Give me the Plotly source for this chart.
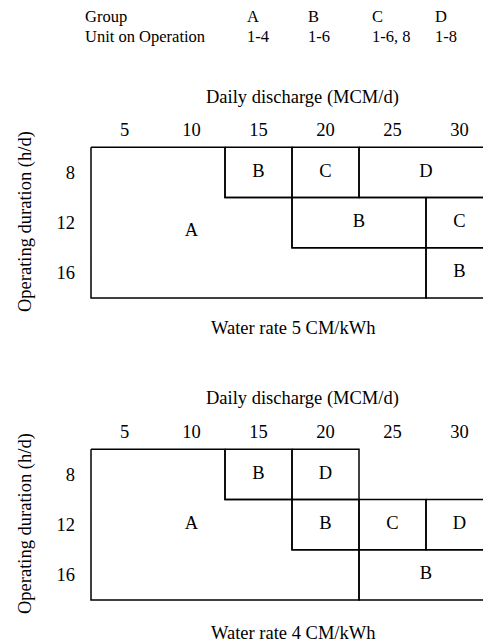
import plotly.graph_objects as go

W, H = 483, 644
FONT = "Liberation Serif"

# ---- data ----
x_ticks = [5, 10, 15, 20, 25, 30]
y_ticks = [8, 12, 16]
header_groups = ["A", "B", "C", "D"]
header_units = ["1-4", "1-6", "1-6, 8", "1-8"]

# Water rate 5 CM/kWh : regions (discharge range x, duration range y)
r5_labels = ["B", "C", "D", "B", "C", "B"]
r5_x0 = [12.5, 17.5, 22.5, 17.5, 27.5, 27.5]
r5_x1 = [17.5, 22.5, 32.5, 27.5, 32.5, 32.5]
r5_y0 = [6, 6, 6, 10, 10, 14]
r5_y1 = [10, 10, 10, 14, 14, 18]
r5_a_x = [2.5, 12.5, 12.5, 17.5, 17.5, 27.5, 27.5, 2.5, 2.5]
r5_a_y = [6, 6, 10, 10, 14, 14, 18, 18, 6]
r5_a_label = (10, 12.7)

# Water rate 4 CM/kWh
r4_labels = ["B", "D", "B", "C", "D", "B"]
r4_x0 = [12.5, 17.5, 17.5, 22.5, 27.5, 22.5]
r4_x1 = [17.5, 22.5, 22.5, 27.5, 32.5, 32.5]
r4_y0 = [6, 6, 10, 10, 10, 14]
r4_y1 = [10, 10, 14, 14, 14, 18]
r4_a_x = [2.5, 12.5, 12.5, 17.5, 17.5, 22.5, 22.5, 2.5, 2.5]
r4_a_y = [6, 6, 10, 10, 14, 14, 18, 18, 6]
r4_a_label = (10, 12.0)

fig = go.Figure()
LINE = dict(color="black", width=1.5)
TXT = dict(family=FONT, size=18.5, color="black")


def add_panel(xa, ya, labels, x0, x1, y0, y1, ax_, ay_, alab):
    # region A outline
    fig.add_trace(go.Scatter(x=ax_, y=ay_, mode="lines", line=LINE,
                             xaxis=xa, yaxis=ya, hoverinfo="skip", showlegend=False))
    for a, b, c, d in zip(x0, x1, y0, y1):
        fig.add_trace(go.Scatter(x=[a, b, b, a, a], y=[c, c, d, d, c], mode="lines",
                                 line=LINE, xaxis=xa, yaxis=ya,
                                 hoverinfo="skip", showlegend=False))
    tx = [(a + b) / 2 for a, b in zip(x0, x1)] + [alab[0]]
    ty = [(c + d) / 2 for c, d in zip(y0, y1)] + [alab[1]]
    fig.add_trace(go.Scatter(x=tx, y=ty, text=list(labels) + ["A"], mode="text",
                             textfont=TXT, xaxis=xa, yaxis=ya, cliponaxis=False,
                             hoverinfo="skip", showlegend=False))


add_panel("x", "y", r5_labels, r5_x0, r5_x1, r5_y0, r5_y1, r5_a_x, r5_a_y, r5_a_label)
add_panel("x2", "y2", r4_labels, r4_x0, r4_x1, r4_y0, r4_y1, r4_a_x, r4_a_y, r4_a_label)

xcommon = dict(range=[2.127, 31.754], tickvals=x_ticks, side="top", showgrid=False,
               zeroline=False, showline=False, ticks="", tickfont=TXT,
               domain=[86 / W, 1], fixedrange=True, ticklabelstandoff=2)
ycommon = dict(range=[18.4, 5.6], tickvals=y_ticks, showgrid=False, zeroline=False,
               showline=False, ticks="", tickfont=TXT, fixedrange=True,
               ticklabelstandoff=10)

fig.update_layout(
    width=W, height=H, margin=dict(l=0, r=0, t=0, b=0),
    paper_bgcolor="white", plot_bgcolor="white",
    font=TXT, showlegend=False,
    xaxis=dict(**xcommon, anchor="y"),
    yaxis=dict(**ycommon, anchor="x", domain=[1 - 303 / H, 1 - 142.3 / H]),
    xaxis2=dict(**xcommon, anchor="y2"),
    yaxis2=dict(**ycommon, anchor="x2", domain=[1 - 604.9 / H, 1 - 444.3 / H]),
)


def ann(text, px, py, size=18.5, xanchor="center", angle=0):
    fig.add_annotation(text=text, x=px / W, y=1 - py / H, xref="paper", yref="paper",
                       showarrow=False, xanchor=xanchor, yanchor="middle",
                       textangle=angle, font=dict(family=FONT, size=size, color="black"))


# header table
ann("Group", 83, 16, size=16.5, xanchor="left")
ann("Unit on Operation", 83, 36, size=16.5, xanchor="left")
hx = [245, 306, 370, 433]
for g, u, px in zip(header_groups, header_units, hx):
    ann(g, px, 16, size=16.5, xanchor="left")
    ann(u, px, 36, size=16.5, xanchor="left")

# panel titles
ann("Daily discharge (MCM/d)", 302, 97)
ann("Water rate 5 CM/kWh", 293, 328)
ann("Daily discharge (MCM/d)", 302, 398)
ann("Water rate 4 CM/kWh", 293, 633)
ann("Operating duration (h/d)", 25, 222, angle=-90)
ann("Operating duration (h/d)", 25, 524, angle=-90)

fig.write_html(
    "out.html",
    config={"displayModeBar": False, "staticPlot": True},
    post_script="document.body.style.margin='0px';document.body.style.overflow='hidden';",
)
